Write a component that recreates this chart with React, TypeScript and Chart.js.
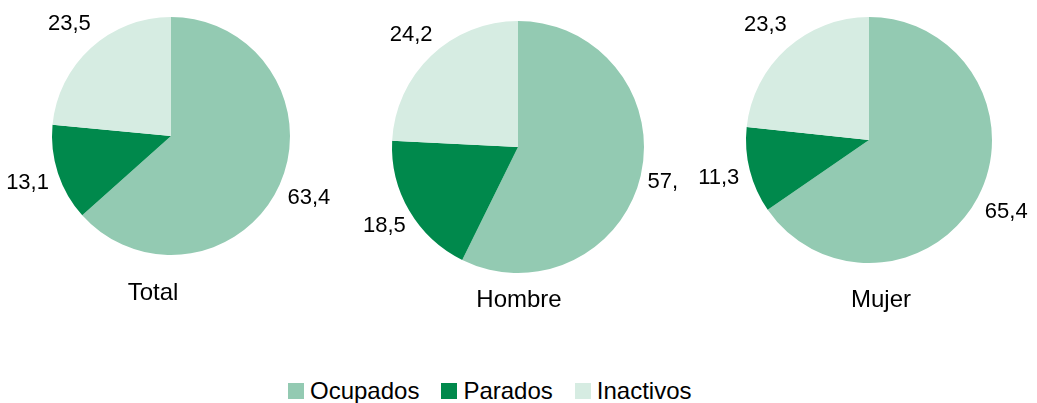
import React, { useEffect, useRef } from "react";
import { Chart, registerables } from "chart.js";

Chart.register(...registerables);

const categories = ["Ocupados", "Parados", "Inactivos"];
const groups = ["Total", "Hombre", "Mujer"];
const totalValues = [63.4, 13.1, 23.5];
const hombreValues = [57.3, 18.5, 24.2];
const mujerValues = [65.4, 11.3, 23.3];
const colors = ["#93CAB2", "#00894C", "#D6ECE2"];

const FONT = "'Liberation Sans', Arial, sans-serif";

type PieLayout = {
  left: number;
  width: number;
  height: number;
  padding: { left: number; right: number; top: number; bottom: number };
  titleDx: number;
  titleY: number;
  labelGap: number;
};

const layouts: PieLayout[] = [
  { left: 0, width: 345, height: 330, padding: { left: 52, right: 55, top: 17, bottom: 75 }, titleDx: -18, titleY: 300, labelGap: 32 },
  { left: 345, width: 332, height: 330, padding: { left: 47, right: 33, top: 21, bottom: 57 }, titleDx: 1, titleY: 307, labelGap: 29 },
  { left: 683, width: 354, height: 330, padding: { left: 63, right: 45, top: 17, bottom: 67 }, titleDx: 12, titleY: 307, labelGap: 32 },
];

const seriesList = [totalValues, hombreValues, mujerValues];

const labelPlugin = {
  id: "outsideLabels",
  afterDatasetsDraw(chart: any, _args: any, opts: any) {
    const ctx = chart.ctx;
    const meta = chart.getDatasetMeta(0);
    const values = chart.data.datasets[0].data as number[];
    ctx.save();
    ctx.fillStyle = "#000";
    ctx.font = `22px ${FONT}`;
    ctx.textAlign = "center";
    ctx.textBaseline = "middle";
    meta.data.forEach((arc: any, i: number) => {
      const p = arc.getProps(["x", "y", "startAngle", "endAngle", "outerRadius"], true);
      const mid = (p.startAngle + p.endAngle) / 2;
      const d = p.outerRadius + opts.labelGap;
      const tx = p.x + Math.cos(mid) * d;
      const ty = p.y + Math.sin(mid) * d;
      ctx.fillText(values[i].toFixed(1).replace(".", ","), tx, ty);
    });
    const a = meta.data[0];
    ctx.font = `24px ${FONT}`;
    ctx.textBaseline = "alphabetic";
    ctx.fillText(opts.title, a.x + opts.titleDx, opts.titleY);
    ctx.restore();
  },
};

function PieChart({ values, title, layout }: { values: number[]; title: string; layout: PieLayout }) {
  const ref = useRef<HTMLCanvasElement | null>(null);
  useEffect(() => {
    if (!ref.current) return;
    const chart = new Chart(ref.current, {
      type: "pie",
      data: {
        labels: categories,
        datasets: [
          {
            data: values,
            backgroundColor: colors,
            borderWidth: 0,
          },
        ],
      },
      options: {
        responsive: false,
        animation: false,
        layout: { padding: layout.padding },
        plugins: {
          legend: { display: false },
          tooltip: { enabled: false },
          outsideLabels: { title, titleDx: layout.titleDx, titleY: layout.titleY, labelGap: layout.labelGap },
        } as any,
      },
      plugins: [labelPlugin],
    });
    return () => chart.destroy();
  }, []);
  return (
    <canvas
      ref={ref}
      width={layout.width}
      height={layout.height}
      style={{ position: "absolute", left: layout.left, top: 0, width: layout.width, height: layout.height }}
    />
  );
}

export default function App() {
  return (
    <div style={{ position: "absolute", left: 0, top: 0, width: 1037, height: 403, background: "#fff", overflow: "hidden" }}>
      {groups.map((g, i) => (
        <PieChart key={g} values={seriesList[i]} title={g} layout={layouts[i]} />
      ))}
      <div
        style={{
          position: "absolute",
          left: 288,
          top: 377,
          display: "flex",
          alignItems: "center",
          fontFamily: FONT,
          fontSize: 24,
          color: "#000",
          whiteSpace: "nowrap",
        }}
      >
        {categories.map((c, i) => (
          <div key={c} style={{ display: "flex", alignItems: "center", marginRight: i < 2 ? 22 : 0 }}>
            <span style={{ display: "inline-block", width: 16, height: 16, background: colors[i], marginRight: 6 }} />
            <span>{c}</span>
          </div>
        ))}
      </div>
    </div>
  );
}
